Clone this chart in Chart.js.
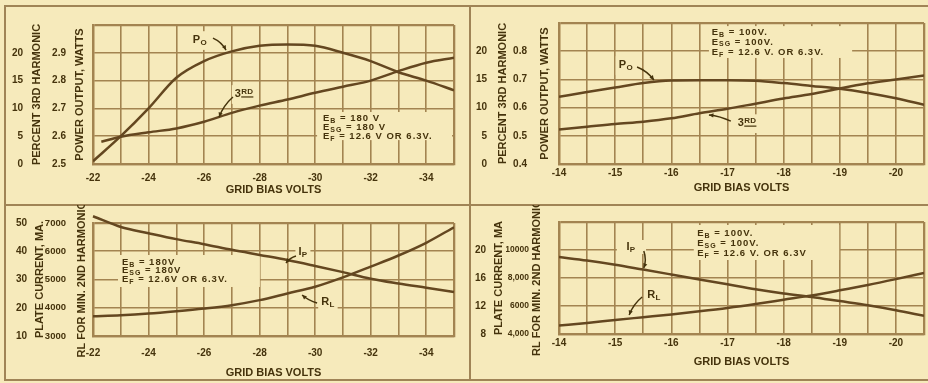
<!DOCTYPE html>
<html><head><meta charset="utf-8">
<script src="https://cdn.jsdelivr.net/npm/chart.js@4.4.0/dist/chart.umd.min.js"></script>
<style>
html,body{margin:0;padding:0;background:#f6eabb;}
#wrap{position:relative;width:928px;height:383px;overflow:hidden;background:#f6eabb;}
canvas{position:absolute;}
.ln{position:absolute;background:#a08456;}
</style></head><body>
<div id="wrap">
<div class="ln" style="left:4px;top:5px;width:2px;height:376px"></div>
<div class="ln" style="left:4px;top:5px;width:924px;height:2px"></div>
<div class="ln" style="left:4px;top:204px;width:924px;height:2px"></div>
<div class="ln" style="left:469px;top:5px;width:2px;height:376px"></div>
<div class="ln" style="left:4px;top:379px;width:924px;height:2px"></div>
<canvas id="c1" width="470" height="205" style="left:0;top:0;width:470px;height:205px"></canvas>
<canvas id="c2" width="458" height="205" style="left:470px;top:0;width:458px;height:205px"></canvas>
<canvas id="c3" width="470" height="178" style="left:0;top:205px;width:470px;height:178px"></canvas>
<canvas id="c4" width="458" height="178" style="left:470px;top:205px;width:458px;height:178px"></canvas>
</div>
<script>
// ---------- DATA ----------
// Panel A (EB = ESG = 180 V): power output and 3rd harmonic vs grid bias
const biasA = [-22, -23, -24, -25, -26, -27, -28, -29, -30, -31, -32, -33, -34, -35];
const powerA = [2.51, 2.60, 2.70, 2.81, 2.87, 2.905, 2.925, 2.93, 2.925, 2.90, 2.87, 2.83, 2.80, 2.765];
const harm3BiasA = [-22.3, -23, -24, -25, -26, -27, -28, -29, -30, -31, -32, -33, -34, -35];
const harm3A = [4.0, 4.9, 5.7, 6.4, 7.6, 9.2, 10.5, 11.6, 12.8, 13.9, 15.0, 16.7, 18.2, 19.1];

// Panel B (EB = ESG = 100 V): power output and 3rd harmonic vs grid bias
const biasB = [-14, -14.5, -15, -15.5, -16, -16.5, -17, -17.5, -18, -18.5, -19, -19.5, -20, -20.5];
const powerB = [0.638, 0.655, 0.671, 0.687, 0.696, 0.697, 0.697, 0.695, 0.687, 0.677, 0.667, 0.652, 0.633, 0.610];
const harm3B = [6.1, 6.6, 7.1, 7.5, 8.1, 9.0, 9.8, 10.7, 11.6, 12.4, 13.4, 14.3, 15.0, 15.7];

// Panel C (EB = ESG = 180 V): plate current and RL vs grid bias
const biasC = [-22, -23, -24, -25, -26, -27, -28, -29, -30, -31, -32, -33, -34, -35];
const plateC = [52.4, 48.6, 46.4, 44.3, 42.5, 40.5, 38.7, 36.9, 34.8, 32.6, 30.3, 28.6, 27.1, 25.6];
const loadC = [3700, 3736, 3795, 3878, 3973, 4092, 4270, 4507, 4745, 5077, 5457, 5850, 6300, 6850];

// Panel D (EB = ESG = 100 V): plate current and RL vs grid bias
const biasD = [-14, -14.5, -15, -15.5, -16, -16.5, -17, -17.5, -18, -18.5, -19, -19.5, -20, -20.5];
const plateD = [19.0, 18.5, 17.9, 17.2, 16.5, 15.8, 15.1, 14.4, 13.8, 13.3, 12.7, 12.1, 11.4, 10.6];
const loadD = [4600, 4790, 5000, 5200, 5400, 5620, 5860, 6140, 6450, 6760, 7120, 7500, 7920, 8360];

// Tick labels
const biasLabelsA = [-22, -24, -26, -28, -30, -32, -34];
const biasLabelsB = [-14, -15, -16, -17, -18, -19, -20];
const pctVals = [0, 5, 10, 15, 20];
const pctTexts = ['0', '5', '10', '15', '20'];
const wattValsA = [2.5, 2.6, 2.7, 2.8, 2.9];
const wattTextsA = ['2.5', '2.6', '2.7', '2.8', '2.9'];
const wattValsB = [0.4, 0.5, 0.6, 0.7, 0.8];
const wattTextsB = ['0.4', '0.5', '0.6', '0.7', '0.8'];
const ipValsC = [10, 20, 30, 40, 50];
const ipTextsC = ['10', '20', '30', '40', '50'];
const rlValsC = [3000, 4000, 5000, 6000, 7000];
const rlTextsC = ['3000', '4000', '5000', '6000', '7000'];
const ipValsD = [8, 12, 16, 20];
const ipTextsD = ['8', '12', '16', '20'];
const rlValsD = [4000, 6000, 8000, 10000];
const rlTextsD = ['4,000', '6000', '8,000', '10000'];

// ---------- STYLE ----------
const PAPER = '#f6eabb';
const GRID = '#a38451';
const INK = '#45330c';
const CURVE = '#644720';
const FONT = "'Liberation Sans', Arial, sans-serif";

function pick(vals, texts) {
  return v => { for (let i = 0; i < vals.length; i++) if (Math.abs(v - vals[i]) < 1e-6) return texts[i]; return ''; };
}
function pts(xs, ys) { return xs.map((x, i) => ({x, y: ys[i]})); }

function parseRich(s) {
  const out = []; const re = /([_^])\{([^}]*)\}/g; let last = 0, m;
  while ((m = re.exec(s))) {
    if (m.index > last) out.push({t: s.slice(last, m.index), k: ''});
    out.push({t: m[2], k: m[1]}); last = re.lastIndex;
  }
  if (last < s.length) out.push({t: s.slice(last), k: ''});
  return out;
}
function drawRich(ctx, s, x, y, size, align, bg, spacing) {
  const segs = parseRich(s);
  const f = k => 'bold ' + (k ? Math.round(size * 0.75) : size) + 'px ' + FONT;
  ctx.letterSpacing = (spacing || 0) + 'px';
  let w = 0;
  segs.forEach(g => { ctx.font = f(g.k); g.w = ctx.measureText(g.t).width; w += g.w; });
  let cx = align === 'center' ? x - w / 2 : x;
  if (bg) { ctx.fillStyle = PAPER; ctx.fillRect(cx - 3, y - size * 0.8, w + 6, size * 1.7); }
  ctx.fillStyle = INK; ctx.textBaseline = 'middle'; ctx.textAlign = 'left';
  segs.forEach(g => {
    ctx.font = f(g.k);
    const dy = g.k === '_' ? size * 0.28 : (g.k === '^' ? -size * 0.2 : 0);
    ctx.fillText(g.t, cx, y + dy);
    if (g.k === '^') ctx.fillRect(cx, y + dy + size * 0.42, g.w, 1.2);
    cx += g.w;
  });
  ctx.letterSpacing = '0px';
}
function arrow(ctx, x1, y1, x2, y2, bend) {
  const mx = (x1 + x2) / 2, my = (y1 + y2) / 2;
  const dx = x2 - x1, dy = y2 - y1, L = Math.hypot(dx, dy) || 1;
  const cx = mx - dy / L * bend, cy = my + dx / L * bend;
  ctx.beginPath(); ctx.moveTo(x1, y1); ctx.quadraticCurveTo(cx, cy, x2, y2); ctx.stroke();
  const a = Math.atan2(y2 - cy, x2 - cx), h = 5;
  ctx.beginPath(); ctx.moveTo(x2, y2);
  ctx.lineTo(x2 - h * Math.cos(a - 0.45), y2 - h * Math.sin(a - 0.45));
  ctx.lineTo(x2 - h * Math.cos(a + 0.45), y2 - h * Math.sin(a + 0.45));
  ctx.closePath(); ctx.fill();
}

// Annotation specs (data coordinates on x and inner y axis)
const NOTES = {
  c1: {
    boxes: [{x1: -30.07, x2: -34.93, y1: 2.586, y2: 2.687}],
    texts: [
      {x: -30.28, y: 2.665, s: 'E_{B} = 180 V'},
      {x: -30.28, y: 2.633, s: 'E_{SG} = 180 V'},
      {x: -30.28, y: 2.601, s: 'E_{F} = 12.6 V OR 6.3V.'},
      {x: -25.85, y: 2.946, s: 'P_{O}', align: 'center', bg: true, size: 11},
      {x: -27.44, y: 2.752, s: '3^{RD}', align: 'center', bg: true, size: 11}
    ],
    arrows: [
      {x1: -26.32, y1: 2.953, x2: -26.79, y2: 2.910, bend: -3},
      {x1: -27.04, y1: 2.741, x2: -26.54, y2: 2.669, bend: 3}
    ]
  },
  c2: {
    boxes: [{x1: -16.67, x2: -19.22, y1: 0.776, y2: 0.889}],
    texts: [
      {x: -16.72, y: 0.865, s: 'E_{B} = 100V.'},
      {x: -16.72, y: 0.833, s: 'E_{SG} = 100V.'},
      {x: -16.72, y: 0.797, s: 'E_{F} = 12.6 V. OR 6.3V.'},
      {x: -15.19, y: 0.751, s: 'P_{O}', align: 'center', bg: true, size: 11},
      {x: -17.35, y: 0.545, s: '3^{RD}', align: 'center', bg: true, size: 11}
    ],
    arrows: [
      {x1: -15.39, y1: 0.744, x2: -15.69, y2: 0.698, bend: -3},
      {x1: -17.06, y1: 0.552, x2: -16.67, y2: 0.574, bend: 2}
    ]
  },
  c3: {
    boxes: [{x1: -22.90, x2: -28.01, y1: 4735, y2: 5867}],
    texts: [
      {x: -23.04, y: 5619, s: 'E_{B} = 180V'},
      {x: -23.04, y: 5336, s: 'E_{SG} = 180V'},
      {x: -23.04, y: 5018, s: 'E_{F} = 12.6V OR 6.3V.'},
      {x: -29.56, y: 5973, s: 'I_{P}', align: 'center', bg: true, size: 11},
      {x: -30.46, y: 4204, s: 'R_{L}', align: 'center', bg: true, size: 11}
    ],
    arrows: [
      {x1: -29.31, y1: 5832, x2: -28.95, y2: 5584, bend: 2},
      {x1: -30.07, y1: 4168, x2: -29.53, y2: 4451, bend: -2}
    ]
  },
  c4: {
    boxes: [{x1: -16.40, x2: -18.99, y1: 9286, y2: 11786}, {x1: -15.03, x2: -15.55, y1: 9714, y2: 10714}],
    texts: [
      {x: -16.46, y: 11214, s: 'E_{B} = 100V.'},
      {x: -16.46, y: 10500, s: 'E_{SG} = 100V.'},
      {x: -16.46, y: 9786, s: 'E_{F} = 12.6 V. OR 6.3V'},
      {x: -15.28, y: 10214, s: 'I_{P}', align: 'center', size: 11},
      {x: -15.69, y: 6786, s: 'R_{L}', align: 'center', bg: true, size: 11}
    ],
    arrows: [
      {x1: -15.51, y1: 9929, x2: -15.51, y2: 8714, bend: -3},
      {x1: -15.48, y1: 6643, x2: -15.25, y2: 5357, bend: 3}
    ]
  }
};

const notesPlugin = {
  id: 'notes',
  beforeDatasetsDraw(chart) {
    const n = NOTES[chart.canvas.id]; if (!n) return;
    const ctx = chart.ctx, sx = chart.scales.x, sy = chart.scales.yIn;
    ctx.save();
    n.boxes.forEach(b => {
      const x1 = sx.getPixelForValue(b.x1), x2 = sx.getPixelForValue(b.x2);
      const y1 = sy.getPixelForValue(b.y1), y2 = sy.getPixelForValue(b.y2);
      ctx.fillStyle = PAPER;
      ctx.fillRect(Math.min(x1, x2), Math.min(y1, y2), Math.abs(x2 - x1), Math.abs(y2 - y1));
    });
    n.texts.forEach(t => drawRich(ctx, t.s, sx.getPixelForValue(t.x), sy.getPixelForValue(t.y),
      t.size || 9.5, t.align || 'left', t.bg, t.size ? 0.3 : 1.0));
    ctx.restore();
  },
  afterDatasetsDraw(chart) {
    const n = NOTES[chart.canvas.id]; if (!n) return;
    const ctx = chart.ctx, sx = chart.scales.x, sy = chart.scales.yIn;
    ctx.save();
    ctx.strokeStyle = INK; ctx.fillStyle = INK; ctx.lineWidth = 1.5;
    n.arrows.forEach(a => arrow(ctx, sx.getPixelForValue(a.x1), sy.getPixelForValue(a.y1), sx.getPixelForValue(a.x2), sy.getPixelForValue(a.y2), a.bend));
    ctx.restore();
  }
};

const titleFont = {family: FONT, size: 11, weight: 'bold'};
const edgeW = (lo, hi) => c => (c.tick && (Math.abs(c.tick.value - lo) < 1e-6 || Math.abs(c.tick.value - hi) < 1e-6)) ? 2.3 : 1.6;

function yAxis(a, inner) {
  return {
    type: 'linear', position: 'left', weight: inner ? 0 : 1, min: a.min, max: a.max,
    afterFit: s => { s.width = a.w; s.paddingTop = 0; s.paddingBottom = 0; },
    grid: inner ? {color: GRID, lineWidth: edgeW(a.min, a.max), drawTicks: false} : {display: false, drawTicks: false},
    border: inner ? {color: GRID, width: 2.3} : {display: false},
    ticks: {stepSize: a.step, autoSkip: false, padding: a.tp, color: INK,
            font: {family: FONT, size: a.fs || 10, weight: 'bold'}, callback: pick(a.vals, a.texts)},
    title: {display: true, text: a.title, color: INK, font: titleFont, padding: {top: a.ttp, bottom: 0}}
  };
}

function makePanel(id, c) {
  return new Chart(document.getElementById(id), {
    type: 'line',
    data: {datasets: c.datasets},
    options: {
      responsive: false, animation: false, events: [],
      layout: {padding: c.pad},
      plugins: {legend: {display: false}, tooltip: {enabled: false}},
      elements: {point: {radius: 0}, line: {borderWidth: 2.5, borderColor: CURVE, cubicInterpolationMode: 'monotone', fill: false}},
      scales: {
        x: {
          type: 'linear', reverse: true, min: c.x.min, max: c.x.max,
          afterFit: s => { s.height = c.x.h; s.paddingLeft = 0; s.paddingRight = 0; },
          grid: {color: GRID, lineWidth: edgeW(c.x.min, c.x.max), drawTicks: false},
          border: {color: GRID, width: 2.3},
          ticks: {stepSize: c.x.step, autoSkip: false, maxRotation: 0, minRotation: 0, padding: c.x.tp, color: INK,
                  font: {family: FONT, size: 10, weight: 'bold'}, callback: pick(c.x.labels, c.x.labels.map(String))},
          title: {display: true, text: 'GRID BIAS VOLTS', color: INK, font: titleFont, padding: {top: 0, bottom: c.x.ttp}}
        },
        yIn: yAxis(c.yIn, true),
        yOut: yAxis(c.yOut, false)
      }
    },
    plugins: [notesPlugin]
  });
}

makePanel('c1', {
  pad: {left: 0, top: 25, right: 16, bottom: 0},
  x: {min: -35, max: -22, step: 1, labels: biasLabelsA, h: 41, tp: 8, ttp: 8},
  yIn: {min: 2.5, max: 3.0, step: 0.1, vals: wattValsA, texts: wattTextsA, w: 50, tp: 27, ttp: 30, title: 'POWER OUTPUT, WATTS'},
  yOut: {min: 0, max: 25, step: 5, vals: pctVals, texts: pctTexts, w: 43, tp: 20, ttp: 30, title: 'PERCENT 3RD HARMONIC'},
  datasets: [
    {label: 'Po', data: pts(biasA, powerA), yAxisID: 'yIn'},
    {label: '3rd harmonic', data: pts(harm3BiasA, harm3A), yAxisID: 'yOut'}
  ]
});

makePanel('c2', {
  pad: {left: 0, top: 23, right: 4, bottom: 0},
  x: {min: -20.5, max: -14, step: 0.5, labels: biasLabelsB, h: 41, tp: 3, ttp: 10},
  yIn: {min: 0.4, max: 0.9, step: 0.1, vals: wattValsB, texts: wattTextsB, w: 50, tp: 32, ttp: 29, title: 'POWER OUTPUT, WATTS'},
  yOut: {min: 0, max: 25, step: 5, vals: pctVals, texts: pctTexts, w: 39, tp: 22, ttp: 26, title: 'PERCENT 3RD HARMONIC'},
  datasets: [
    {label: 'Po', data: pts(biasB, powerB), yAxisID: 'yIn'},
    {label: '3rd harmonic', data: pts(biasB, harm3B), yAxisID: 'yOut'}
  ]
});

makePanel('c3', {
  pad: {left: 0, top: 18, right: 16, bottom: 0},
  x: {min: -35, max: -22, step: 1, labels: biasLabelsA, h: 47, tp: 11, ttp: 3},
  yIn: {min: 3000, max: 7000, step: 1000, vals: rlValsC, texts: rlTextsC, w: 49, tp: 27, ttp: 31, fs: 9.5, title: 'RL FOR MIN. 2ND HARMONIC'},
  yOut: {min: 10, max: 50, step: 10, vals: ipValsC, texts: ipTextsC, w: 44, tp: 17, ttp: 33, title: 'PLATE CURRENT, MA.'},
  datasets: [
    {label: 'Ip', data: pts(biasC, plateC), yAxisID: 'yOut', clip: false},
    {label: 'RL', data: pts(biasC, loadC), yAxisID: 'yIn'}
  ]
});

makePanel('c4', {
  pad: {left: 0, top: 17, right: 4, bottom: 0},
  x: {min: -20.5, max: -14, step: 0.5, labels: biasLabelsB, h: 49, tp: 3, ttp: 14},
  yIn: {min: 4000, max: 12000, step: 2000, vals: rlValsD, texts: rlTextsD, w: 53, tp: 30, ttp: 24, fs: 8.5, title: 'RL FOR MIN. 2ND HARMONIC'},
  yOut: {min: 8, max: 24, step: 4, vals: ipValsD, texts: ipTextsD, w: 36, tp: 20, ttp: 22, title: 'PLATE CURRENT, MA'},
  datasets: [
    {label: 'Ip', data: pts(biasD, plateD), yAxisID: 'yOut'},
    {label: 'RL', data: pts(biasD, loadD), yAxisID: 'yIn'}
  ]
});
</script>
</body></html>
